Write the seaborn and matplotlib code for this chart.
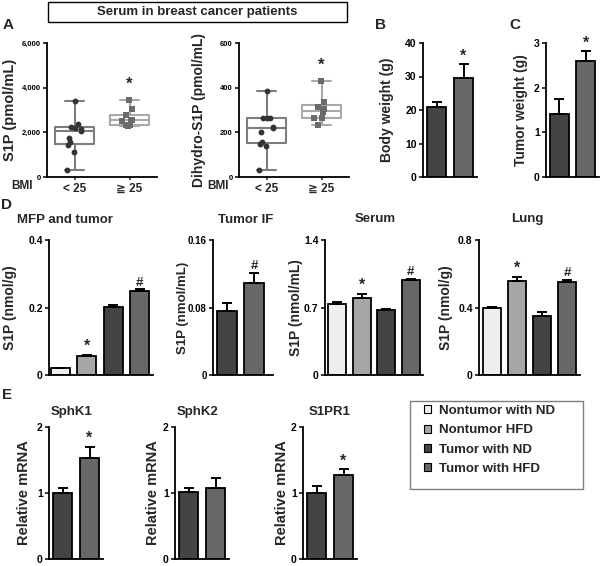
import numpy as np
import pandas as pd
import matplotlib
matplotlib.use("Agg")
import matplotlib.pyplot as plt
from matplotlib.patches import Rectangle, Patch
import seaborn as sns

sns.set_style("ticks")
plt.rcParams['font.family'] = ['Liberation Sans', 'DejaVu Sans']
plt.rcParams['font.weight'] = 'bold'
plt.rcParams['axes.labelweight'] = 'bold'

# ---------------- data ----------------
bmi_cats = ['< 25', '≧ 25']
s1p_low = [3400, 2370, 2250, 2200, 2150, 2040, 1730, 1550, 1430, 1100, 310]
s1p_high = [3450, 3040, 2780, 2560, 2530, 2500, 2320, 2310, 2300]
dh_low = [385, 266, 266, 265, 222, 218, 200, 155, 150, 140, 31]
dh_high = [430, 337, 315, 303, 290, 266, 266, 233]

diet_cats = ['ND', 'HFD']
body_weight = [21.0, 29.7]
body_err = [1.5, 3.9]
tumor_weight = [1.40, 2.60]
tumor_err = [0.34, 0.22]

groups = ['Nontumor with ND', 'Nontumor HFD', 'Tumor with ND', 'Tumor with HFD']
tumor_groups = ['Tumor with ND', 'Tumor with HFD']
mfp = [0.020, 0.056, 0.202, 0.248]
mfp_err = [0.002, 0.004, 0.004, 0.006]
tif = [0.076, 0.109]
tif_err = [0.009, 0.012]
serum = [0.74, 0.80, 0.67, 0.986]
serum_err = [0.014, 0.042, 0.011, 0.011]
lung = [0.395, 0.56, 0.347, 0.55]
lung_err = [0.010, 0.022, 0.024, 0.014]

sphk1 = [1.0, 1.525]
sphk1_err = [0.08, 0.175]
sphk2 = [1.01, 1.08]
sphk2_err = [0.07, 0.145]
s1pr1 = [1.0, 1.28]
s1pr1_err = [0.105, 0.08]

group_colors = {'Nontumor with ND': '#efefef', 'Nontumor HFD': '#a6a6a6',
                'Tumor with ND': '#444444', 'Tumor with HFD': '#676767',
                'ND': '#444444', 'HFD': '#676767'}

# ---------------- layout ----------------
W, H = 600, 566
fig = plt.figure(figsize=(W / 100, H / 100), dpi=100)


def add_ax(l, r, t, b):
    return fig.add_axes([l / W, 1 - b / H, (r - l) / W, (b - t) / H])


def ftext(x, y, s, **kw):
    fig.text(x / W, 1 - y / H, s, **kw)


def style_ax(ax, xticks=False):
    sns.despine(ax=ax)
    for s in ['left', 'bottom']:
        ax.spines[s].set_linewidth(1.3)
        ax.spines[s].set_color('black')
    ax.tick_params(axis='y', direction='out', length=3, width=1.1, pad=1.5,
                   colors='black')
    if not xticks:
        ax.tick_params(axis='x', length=0, labelbottom=False)
    ax.set_xlabel('')


def ylabel_at(ax, text, px, size=10):
    bb = ax.get_position()
    left = bb.x0 * W
    width = bb.width * W
    ax.set_ylabel(text, fontsize=size, fontweight='bold')
    ax.yaxis.label.set_va('center')
    ax.yaxis.set_label_coords((px - left) / width, 0.5)


def bar_panel(ax, cats, vals, errs, ylim, yticks, yticklabels, marks, xlim,
              width=0.72, tsize=7.5):
    n = len(cats)
    df = pd.DataFrame({'c': cats, 'v': vals})
    sns.barplot(data=df, x='c', y='v', hue='c', order=cats, hue_order=cats,
                palette=[group_colors[c] for c in cats], width=width,
                saturation=1, edgecolor='black', linewidth=1.3,
                errorbar=None, legend=False, ax=ax)
    ax.errorbar(np.arange(n), vals, yerr=[np.zeros(n), errs], fmt='none',
                ecolor='black', elinewidth=1.4, capsize=3.5, capthick=1.4,
                zorder=5)
    ax.set_ylim(*ylim)
    ax.set_xlim(*xlim)
    ax.set_yticks(yticks)
    ax.set_yticklabels(yticklabels, fontsize=tsize, fontweight='bold')
    for i, m in enumerate(marks):
        if m:
            ax.annotate(m, (i, vals[i] + errs[i]), xytext=(0, 0.5),
                        textcoords='offset points', ha='center', va='bottom',
                        fontsize=11.5 if m == '*' else 9.5, fontweight='bold')
    style_ax(ax)


def box_panel(ax, low, high, ylim, yticks, yticklabels):
    df = pd.DataFrame({'g': [bmi_cats[0]] * len(low) + [bmi_cats[1]] * len(high),
                       'v': low + high})
    sns.boxplot(data=df, x='g', y='v', hue='g', order=bmi_cats,
                hue_order=bmi_cats, palette=['#7d7d7d', '#a9a9a9'],
                fill=False, whis=(0, 100), width=0.7, linewidth=1.5,
                saturation=1, legend=False, ax=ax)
    np.random.seed(3)
    sns.stripplot(data=df[df.g == bmi_cats[0]], x='g', y='v', order=bmi_cats,
                  color='#333333', marker='o', size=4.2, jitter=0.14, ax=ax,
                  zorder=4)
    sns.stripplot(data=df[df.g == bmi_cats[1]], x='g', y='v', order=bmi_cats,
                  color='#6b6b6b', marker='s', size=4.0, jitter=0.14, ax=ax,
                  zorder=4)
    ax.set_ylim(*ylim)
    ax.set_xlim(-0.5, 1.5)
    ax.set_yticks(yticks)
    ax.set_yticklabels(yticklabels, fontsize=5.5, fontweight='bold')
    style_ax(ax, xticks=True)
    ax.set_xticks([0, 1])
    ax.set_xticklabels(bmi_cats, fontsize=8.5, fontweight='bold')
    ax.tick_params(axis='x', direction='out', length=2.5, width=1.1, pad=1.5)


# ---- A ----
axA1 = add_ax(47, 157, 43, 177)
box_panel(axA1, s1p_low, s1p_high, (0, 6000), [0, 2000, 4000, 6000],
          ['0', '2,000', '4,000', '6,000'])
axA1.annotate('*', (1, 3450), xytext=(0, 6), textcoords='offset points',
              ha='center', va='bottom', fontsize=12, fontweight='bold')
ylabel_at(axA1, 'S1P (pmol/mL)', 10, size=10.5)

axA2 = add_ax(239, 349, 43, 177)
box_panel(axA2, dh_low, dh_high, (0, 600), [0, 200, 400, 600],
          ['0', '200', '400', '600'])
axA2.annotate('*', (1, 430), xytext=(0, 6), textcoords='offset points',
              ha='center', va='bottom', fontsize=12, fontweight='bold')
ylabel_at(axA2, 'Dihydro-S1P (pmol/mL)', 199, size=10)

ftext(22, 186, 'BMI', fontsize=8.5, fontweight='bold', ha='center', va='center')
ftext(218, 186, 'BMI', fontsize=8.5, fontweight='bold', ha='center', va='center')

fig.add_artist(Rectangle((48 / W, 1 - 22 / H), 299 / W, 20 / H,
                         transform=fig.transFigure, facecolor='white',
                         edgecolor='black', linewidth=1.0))
ftext(197, 12, 'Serum in breast cancer patients', fontsize=9.5,
      fontweight='bold', ha='center', va='center')

# ---- B ----
axB = add_ax(423, 477, 43, 177)
bar_panel(axB, diet_cats, body_weight, body_err, (0, 40), [0, 10, 20, 30, 40],
          ['0', '10', '20', '30', '40'], [None, '*'], (-0.5, 1.5))
ylabel_at(axB, 'Body weight (g)', 387)

# ---- C ----
axC = add_ax(546, 599, 43, 177)
bar_panel(axC, diet_cats, tumor_weight, tumor_err, (0, 3), [0, 1, 2, 3],
          ['0', '1', '2', '3'], [None, '*'], (-0.5, 1.5))
ylabel_at(axC, 'Tumor weight (g)', 521)

# ---- D ----
axD1 = add_ax(49, 153, 240, 375)
bar_panel(axD1, groups, mfp, mfp_err, (0, 0.4), [0, 0.2, 0.4],
          ['0', '0.2', '0.4'], [None, '*', None, '#'], (-0.42, 3.5))
ylabel_at(axD1, 'S1P (nmol/g)', 10)
ftext(65, 220, 'MFP and tumor', fontsize=9.5, fontweight='bold', ha='center', va='center')

axD2 = add_ax(213, 273, 240, 375)
bar_panel(axD2, tumor_groups, tif, tif_err, (0, 0.16), [0, 0.08, 0.16],
          ['0', '0.08', '0.16'], [None, '#'], (-0.5, 1.68), tsize=7)
ylabel_at(axD2, 'S1P (nmol/mL)', 183, size=9.5)
ftext(246, 220, 'Tumor IF', fontsize=9.5, fontweight='bold', ha='center', va='center')

axD3 = add_ax(325, 423, 240, 375)
bar_panel(axD3, groups, serum, serum_err, (0, 1.4), [0, 0.7, 1.4],
          ['0', '0.7', '1.4'], [None, '*', None, '#'], (-0.5, 3.5))
ylabel_at(axD3, 'S1P (nmol/mL)', 296)
ftext(375, 219, 'Serum', fontsize=9.5, fontweight='bold', ha='center', va='center')

axD4 = add_ax(479, 580, 240, 375)
bar_panel(axD4, groups, lung, lung_err, (0, 0.8), [0, 0.4, 0.8],
          ['0', '0.4', '0.8'], [None, '*', None, '#'], (-0.5, 3.5))
ylabel_at(axD4, 'S1P (nmol/g)', 446)
ftext(527, 219, 'Lung', fontsize=9.5, fontweight='bold', ha='center', va='center')

# ---- E ----
e_specs = [(49, 103, sphk1, sphk1_err, [None, '*'], 'SphK1', 72, 24),
           (175, 229, sphk2, sphk2_err, [None, None], 'SphK2', 198, 153),
           (303, 357, s1pr1, s1pr1_err, [None, '*'], 'S1PR1', 330, 282)]
for l, r, vals, errs, marks, title, tx, lx in e_specs:
    ax = add_ax(l, r, 427, 559)
    bar_panel(ax, tumor_groups, vals, errs, (0, 2), [0, 1, 2], ['0', '1', '2'],
              marks, (-0.5, 1.5))
    ylabel_at(ax, 'Relative mRNA', lx, size=10.5)
    ftext(tx, 412, title, fontsize=9.5, fontweight='bold', ha='center', va='center')

# ---- legend ----
fig.add_artist(Rectangle((410 / W, 1 - 489 / H), 173 / W, 88 / H,
                         transform=fig.transFigure, facecolor='white',
                         edgecolor='#7f7f7f', linewidth=1.0))
handles = [Patch(facecolor=group_colors[g], edgecolor='black', linewidth=0.8)
           for g in groups]
fig.legend(handles, groups, loc='upper left',
           bbox_to_anchor=(424 / W, 1 - 405 / H), frameon=False,
           handlelength=0.55, handleheight=0.55, handletextpad=0.6,
           labelspacing=0.55, borderpad=0, borderaxespad=0,
           prop={'size': 9.5, 'weight': 'bold'})

# ---- panel letters ----
for s, x, y in [('A', 8, 25), ('B', 380, 25), ('C', 515, 25), ('D', 7, 205),
                ('E', 7, 395)]:
    ftext(x, y, s, fontsize=11, fontweight='bold', ha='center', va='center')

fig.savefig('out.png', dpi=100)
